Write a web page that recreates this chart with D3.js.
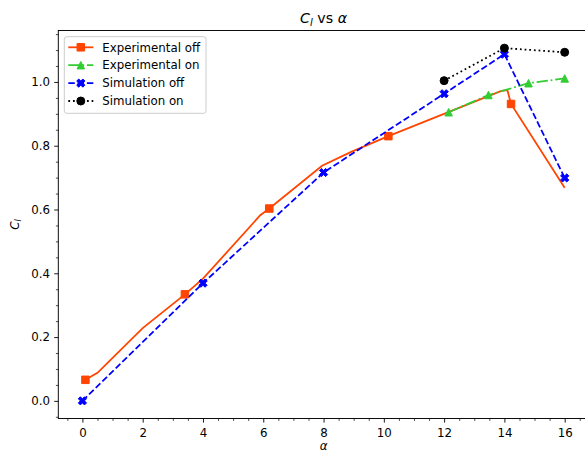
<!DOCTYPE html>
<html>
<head>
<meta charset="utf-8">
<script src="https://cdn.jsdelivr.net/npm/d3@7"></script>
<style>
  body { margin: 0; background: #fff; }
  svg { display: block; font-family: "DejaVu Sans", sans-serif; }
</style>
</head>
<body>
<svg id="chart" width="585" height="453"></svg>
<script>
// Lift coefficient against angle of attack, experiment vs simulation
const expOffAlpha = [0.1, 0.5, 2.0, 3.4, 4.0, 5.9, 6.2, 7.95, 8.9, 10.15, 13.9, 14.1, 14.22, 15.85, 16.0];
const expOffCl    = [0.066, 0.088, 0.228, 0.334, 0.383, 0.582, 0.603, 0.737, 0.78, 0.83, 0.972, 0.974, 0.931, 0.69, 0.668];
const expOffMarkEvery = 3;

const expOnAlpha = [12.15, 13.47, 14.8, 16.0];
const expOnCl    = [0.905, 0.959, 0.996, 1.011];

const simOffAlpha = [0, 4, 8, 12, 14, 16];
const simOffCl    = [0.0, 0.369, 0.716, 0.963, 1.087, 0.699];

const simOnAlpha = [12, 14, 16];
const simOnCl    = [1.004, 1.106, 1.093];

const xTicks = [0, 2, 4, 6, 8, 10, 12, 14, 16];
const yTicks = [0.0, 0.2, 0.4, 0.6, 0.8, 1.0];
const yTickLabels = ["0.0", "0.2", "0.4", "0.6", "0.8", "1.0"];
const legendLabels = ["Experimental off", "Experimental on", "Simulation off", "Simulation on"];

const svg = d3.select("#chart");
const box = { left: 58.3, right: 588.8, top: 30.5, bottom: 418.5 };
const fs = 11.8;       // base font size (px)
const lw = 1.77;       // line width (px)

// 5% margins around the data extents
function padded(arrs) {
  const all = arrs.flat();
  const lo = d3.min(all), hi = d3.max(all), m = (hi - lo) * 0.05;
  return [lo - m, hi + m];
}
const x = d3.scaleLinear()
  .domain(padded([expOffAlpha, expOnAlpha, simOffAlpha, simOnAlpha]))
  .range([box.left, box.right]);
const y = d3.scaleLinear()
  .domain(padded([expOffCl, expOnCl, simOffCl, simOnCl]))
  .range([box.bottom, box.top]);

const series = [
  { label: legendLabels[0], a: expOffAlpha, c: expOffCl, color: "#ff4500", dash: null,
    marker: "square", every: expOffMarkEvery },
  { label: legendLabels[1], a: expOnAlpha, c: expOnCl, color: "#32cd32",
    dash: [11.3, 2.8, 1.77, 2.8], marker: "triangle", every: 1 },
  { label: legendLabels[2], a: simOffAlpha, c: simOffCl, color: "#0000ff",
    dash: [6.5, 2.8], marker: "xfilled", every: 1 },
  { label: legendLabels[3], a: simOnAlpha, c: simOnCl, color: "#000000",
    dash: [1.77, 2.9], marker: "circle", every: 1 }
];

// Marker shapes
const ms = 7.5;
function markerPath(kind) {
  const h = ms / 2;
  if (kind === "square") return `M${-h},${-h}H${h}V${h}H${-h}Z`;
  if (kind === "triangle") return `M0,${-h}L${h},${h}L${-h},${h}Z`;
  if (kind === "circle") {
    const r = 4;
    return `M${-r},0A${r},${r} 0 1,0 ${r},0A${r},${r} 0 1,0 ${-r},0Z`;
  }
  // filled "X"
  const s = 8.2;
  const pts = [[-0.25,-0.5],[0,-0.25],[0.25,-0.5],[0.5,-0.25],[0.25,0],[0.5,0.25],
               [0.25,0.5],[0,0.25],[-0.25,0.5],[-0.5,0.25],[-0.25,0],[-0.5,-0.25]];
  return "M" + pts.map(p => `${p[0]*s},${p[1]*s}`).join("L") + "Z";
}

// Clip region for plotted data
svg.append("defs").append("clipPath").attr("id", "plotClip")
  .append("rect")
  .attr("x", box.left).attr("y", box.top)
  .attr("width", box.right - box.left).attr("height", box.bottom - box.top);

// Axes: minor ticks
const xMinor = d3.range(-0.5, 16.51, 0.5).filter(v => !xTicks.includes(v));
const yMinor = d3.range(-0.05, 1.151, 0.05).map(v => +v.toFixed(2))
  .filter(v => !yTicks.some(t => Math.abs(t - v) < 1e-6));

svg.append("g").attr("transform", `translate(0,${box.bottom})`)
  .call(d3.axisBottom(x).tickValues(xMinor).tickSize(2.4).tickFormat(""))
  .call(g => g.select(".domain").remove())
  .call(g => g.selectAll("line").attr("stroke", "#000").attr("stroke-width", 0.7));
svg.append("g").attr("transform", `translate(${box.left},0)`)
  .call(d3.axisLeft(y).tickValues(yMinor).tickSize(2.4).tickFormat(""))
  .call(g => g.select(".domain").remove())
  .call(g => g.selectAll("line").attr("stroke", "#000").attr("stroke-width", 0.7));

// Axes: major ticks with labels
svg.append("g").attr("transform", `translate(0,${box.bottom})`)
  .call(d3.axisBottom(x).tickValues(xTicks).tickSize(4.1).tickPadding(6).tickFormat(d3.format("d")))
  .call(g => g.select(".domain").remove())
  .call(g => g.selectAll("line").attr("stroke", "#000").attr("stroke-width", 0.9))
  .call(g => g.selectAll("text").attr("fill", "#000")
    .attr("font-family", "DejaVu Sans").attr("font-size", fs));
svg.append("g").attr("transform", `translate(${box.left},0)`)
  .call(d3.axisLeft(y).tickValues(yTicks).tickSize(4.1).tickPadding(4.2)
    .tickFormat((d, i) => yTickLabels[i]))
  .call(g => g.select(".domain").remove())
  .call(g => g.selectAll("line").attr("stroke", "#000").attr("stroke-width", 0.9))
  .call(g => g.selectAll("text").attr("fill", "#000")
    .attr("font-family", "DejaVu Sans").attr("font-size", fs));

// Data lines and markers
const plotG = svg.append("g").attr("clip-path", "url(#plotClip)");
const line = d3.line().x(d => x(d[0])).y(d => y(d[1]));
series.forEach(s => {
  const pts = s.a.map((a, i) => [a, s.c[i]]);
  plotG.append("path").datum(pts)
    .attr("d", line)
    .attr("fill", "none")
    .attr("stroke", s.color)
    .attr("stroke-width", lw)
    .attr("stroke-dasharray", s.dash ? s.dash.join(",") : null);
  plotG.selectAll(null).data(pts.filter((p, i) => i % s.every === 0)).enter()
    .append("path")
    .attr("transform", d => `translate(${x(d[0])},${y(d[1])})`)
    .attr("d", markerPath(s.marker))
    .attr("fill", s.color)
    .attr("stroke", s.color)
    .attr("stroke-width", 1);
});

// Spines
const spine = svg.append("g").attr("stroke", "#000").attr("stroke-width", 0.95).attr("fill", "none");
spine.append("rect")
  .attr("x", box.left).attr("y", box.top)
  .attr("width", box.right - box.left).attr("height", box.bottom - box.top);

// Legend
const lg = svg.append("g");
lg.append("rect")
  .attr("x", 64.3).attr("y", 36.7).attr("width", 141.7).attr("height", 76.6)
  .attr("rx", 2.5)
  .attr("fill", "#fff").attr("fill-opacity", 0.8)
  .attr("stroke", "#cccccc").attr("stroke-width", 1);
series.forEach((s, i) => {
  const cy = 47.3 + i * 17.9;
  lg.append("line")
    .attr("x1", 68.3).attr("x2", 93.3).attr("y1", cy).attr("y2", cy)
    .attr("stroke", s.color).attr("stroke-width", lw)
    .attr("stroke-dasharray", s.dash ? s.dash.join(",") : null);
  lg.append("path")
    .attr("transform", `translate(80.8,${cy})`)
    .attr("d", markerPath(s.marker))
    .attr("fill", s.color).attr("stroke", s.color).attr("stroke-width", 1);
  lg.append("text")
    .attr("x", 102.3).attr("y", cy).attr("dy", "0.36em")
    .attr("font-size", fs).attr("fill", "#000")
    .text(s.label);
});

// Title: C_l vs α
const title = svg.append("text")
  .attr("x", (box.left + box.right) / 2).attr("y", 23)
  .attr("text-anchor", "middle").attr("font-size", 14.2).attr("fill", "#000");
title.append("tspan").attr("font-style", "italic").text("C");
title.append("tspan").attr("font-style", "italic").attr("font-size", 10).attr("dy", 2.6).text("l");
title.append("tspan").attr("dy", -2.6).text(" vs ");
title.append("tspan").attr("font-style", "italic").text("α");

// Axis labels
svg.append("text")
  .attr("x", (box.left + box.right) / 2).attr("y", 450)
  .attr("text-anchor", "middle").attr("font-size", fs).attr("font-style", "italic")
  .attr("fill", "#000").text("α");

const yl = svg.append("text")
  .attr("transform", `translate(19,${(box.top + box.bottom) / 2}) rotate(-90)`)
  .attr("text-anchor", "middle").attr("font-size", fs).attr("fill", "#000");
yl.append("tspan").attr("font-style", "italic").text("C");
yl.append("tspan").attr("font-style", "italic").attr("font-size", 8.3).attr("dy", 2.2).text("l");
</script>
</body>
</html>
